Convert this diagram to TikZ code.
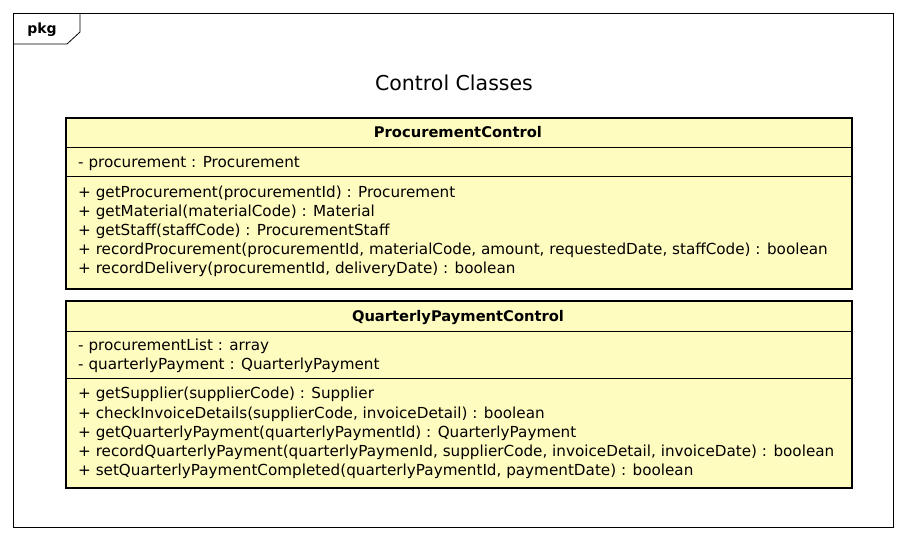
\documentclass[tikz,border=0pt]{standalone}
\usepackage{fontspec}
\setmainfont{DejaVu Sans}
\begin{document}
\begin{tikzpicture}[x=1pt,y=-1pt,
  frame/.style={draw=black,line width=0.8pt},
  classbox/.style={draw=black,line width=2.4pt,fill=yellow!25!white,rectangle,anchor=north west,inner sep=0pt},
  divider/.style={draw=black,line width=0.7pt},
  member/.style={anchor=base west,inner sep=0pt,font=\fontsize{15.2}{17}\selectfont},
  header/.style={anchor=base,inner sep=0pt,font=\fontsize{14.7}{17}\selectfont\bfseries},
  title/.style={anchor=base,inner sep=0pt,font=\fontsize{20.5}{23}\selectfont}]
\useasboundingbox (0,0) rectangle (906,540);
\fill[white] (0,0) rectangle (906,540);

% package frame and its tab
\coordinate (fTL) at (13,13);
\coordinate (fBR) at (893,527);
\draw[frame] (fTL) rectangle (fBR);
\coordinate (tabA) at (80,13);
\coordinate (tabB) at (80,32);
\coordinate (tabC) at (67,44);
\coordinate (tabD) at (13,44);
\draw[frame] (tabA) -- (tabB) -- (tabC) -- (tabD);
\node[anchor=base,inner sep=0pt,font=\fontsize{14}{16}\selectfont\bfseries] (pkg) at (42,34) {pkg};

\node[title] (title) at (454,91) {Control Classes};

% ProcurementControl
\node[classbox,minimum width=786,minimum height=171] (pc) at (65,117) {};
\node[header] (pcname) at (458,138) {ProcurementControl};
\draw[divider] (65,147) coordinate (pcd1a) -- (851,147) coordinate (pcd1b);
\draw[divider] (65,176) coordinate (pcd2a) -- (851,176) coordinate (pcd2b);
\node[member] (pca1) at (78,168) {- procurement : Procurement};
\node[member] (pcm1) at (78,198) {+ getProcurement(procurementId) : Procurement};
\node[member] (pcm2) at (78,217) {+ getMaterial(materialCode) : Material};
\node[member] (pcm3) at (78,236) {+ getStaff(staffCode) : ProcurementStaff};
\node[member] (pcm4) at (78,255) {+ recordProcurement(procurementId, materialCode, amount, requestedDate, staffCode) : boolean};
\node[member] (pcm5) at (78,274) {+ recordDelivery(procurementId, deliveryDate) : boolean};

% QuarterlyPaymentControl
\node[classbox,minimum width=786,minimum height=187] (qc) at (65,300) {};
\node[header] (qcname) at (458,322) {QuarterlyPaymentControl};
\draw[divider] (65,331) coordinate (qcd1a) -- (851,331) coordinate (qcd1b);
\draw[divider] (65,378) coordinate (qcd2a) -- (851,378) coordinate (qcd2b);
\node[member] (qca1) at (78,351) {- procurementList : array};
\node[member] (qca2) at (78,370) {- quarterlyPayment : QuarterlyPayment};
\node[member] (qcm1) at (78,399) {+ getSupplier(supplierCode) : Supplier};
\node[member] (qcm2) at (78,418) {+ checkInvoiceDetails(supplierCode, invoiceDetail) : boolean};
\node[member] (qcm3) at (78,437) {+ getQuarterlyPayment(quarterlyPaymentId) : QuarterlyPayment};
\node[member] (qcm4) at (78,456) {+ recordQuarterlyPayment(quarterlyPaymenId, supplierCode, invoiceDetail, invoiceDate) : boolean};
\node[member] (qcm5) at (78,475) {+ setQuarterlyPaymentCompleted(quarterlyPaymentId, paymentDate) : boolean};
\end{tikzpicture}
\end{document}
